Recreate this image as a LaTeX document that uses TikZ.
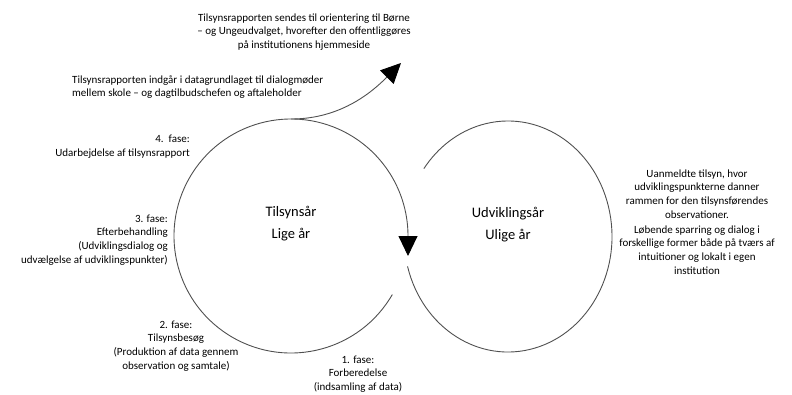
\documentclass[tikz,border=0pt]{standalone}
\usepackage{fontspec}
\setmainfont{Carlito}
\usetikzlibrary{arrows.meta,calc}
\definecolor{linegray}{RGB}{80,80,80}
\tikzset{
  txt/.style={inner sep=0pt, font=\fontsize{11}{13.8}\selectfont, text=black},
  title/.style={inner sep=0pt, font=\fontsize{14.5}{22}\selectfont, text=black, align=center},
  ring/.style={draw=linegray, line width=0.9pt},
  bigtip/.style={-{Triangle[length=20pt,width=19pt,color=black]}, draw=linegray, line width=0.9pt},
}
\begin{document}
\begin{tikzpicture}[x=1pt,y=1pt]
\useasboundingbox (0,0) rectangle (792,-394);
% centres
\coordinate (L) at (291,-236);
\coordinate (R) at (508,-236.5);
% left circle with arrow
\draw[ring] (L) ++(-30:117) arc[start angle=-30, end angle=-360, radius=117] coordinate (Lend);
\coordinate (Ltip) at (408,-256);
\draw[bigtip] (Lend) -- (Ltip);
% right ellipse
\draw[ring] (R) ++({104*cos(195)},{115.5*sin(195)}) arc[start angle=195, end angle=504, x radius=104, y radius=115.5];
% top arrow
\coordinate (Ltop) at (291,-119);
\coordinate (Tmid) at (386,-78);
\coordinate (Ttip) at (401,-63);
\draw[ring] (Ltop) .. controls (335,-119) and (366,-98) .. (Tmid);
\draw[bigtip] (Tmid) -- (Ttip);
% titles
\node[title] (t1) at (291,-224) {Tilsynsår\\Lige år};
\node[title] (t2) at (508,-225) {Udviklingsår\\Ulige år};
% texts
\node[txt, align=center] (a) at (304,-32) {Tilsynsrapporten sendes til orientering til Børne\\– og Ungeudvalget, hvorefter den offentliggøres\\på institutionens hjemmeside};
\node[txt, align=left, anchor=west] (b) at (72,-87) {Tilsynsrapporten indgår i datagrundlaget til dialogmøder\\mellem skole – og dagtilbudschefen og aftaleholder};
\node[txt, align=right, anchor=east] (f4) at (190,-147) {4.\ \ fase:\\Udarbejdelse af tilsynsrapport};
\node[txt, align=right, anchor=east] (f3) at (168,-240) {3. fase:\\Efterbehandling\\(Udviklingsdialog og\\udvælgelse af udviklingspunkter)};
\node[txt, align=center] (f2) at (176,-346) {2. fase:\\Tilsynsbesøg\\(Produktion af data gennem\\observation og samtale)};
\node[txt, align=center] (f1) at (358,-374) {1. fase:\\Forberedelse\\(indsamling af data)};
\node[txt, align=center] (r1) at (697,-194) {Uanmeldte tilsyn, hvor\\udviklingspunkterne danner\\rammen for den tilsynsførendes\\observationer.};
\node[txt, align=center] (r2) at (697,-250) {Løbende sparring og dialog i\\forskellige former både på tværs af\\intuitioner og lokalt i egen\\institution};
\end{tikzpicture}
\end{document}
